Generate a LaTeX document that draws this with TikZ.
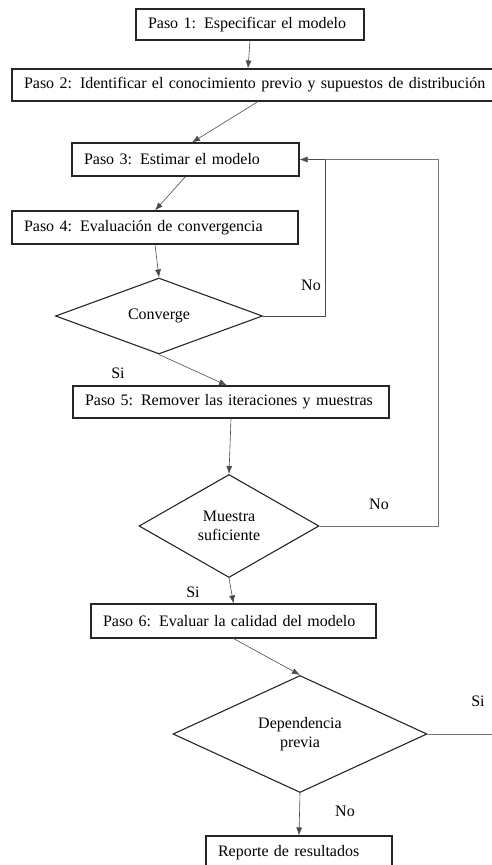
\documentclass[tikz,border=0pt]{standalone}
\usepackage{fontspec}
\setmainfont{Liberation Serif}
\usetikzlibrary{shapes.geometric,arrows.meta}
\begin{document}
\begin{tikzpicture}[x=1pt, y=-1pt, font=\fontsize{16}{19}\selectfont,
  paso/.style={draw=black!85, line width=1.1pt, inner xsep=12pt, inner ysep=0pt, align=left},
  decision/.style={diamond, draw=black!85, line width=1.1pt, inner sep=0pt, align=center},
  flecha/.style={draw=black!70, line width=0.6pt, -{Latex[length=8pt,width=6pt]}},
  linea/.style={draw=black!55, line width=0.6pt}]
\useasboundingbox (0,0) rectangle (492,865);
\node [paso, text width=204pt, minimum height=31pt] (paso1) at (250,24.5) {Paso 1: Especificar el modelo};
\node [paso, text width=476pt, minimum height=32pt] (paso2) at (262,85) {\mbox{Paso 2: Identificar el conocimiento previo y supuestos de distribución}};
\node [paso, text width=203pt, minimum height=33pt] (paso3) at (185.5,159.5) {Paso 3: Estimar el modelo};
\node [paso, text width=262pt, minimum height=33pt] (paso4) at (155,227.5) {Paso 4: Evaluación de convergencia};
\node [decision, minimum width=207pt, minimum height=65pt] (converge) at (159,316) {Converge};
\node [paso, text width=292pt, minimum height=32pt] (paso5) at (231,402) {Paso 5: Remover las iteraciones y muestras};
\node [decision, minimum width=180pt, minimum height=103pt] (muestra) at (229,526) {Muestra\\suficiente};
\node [paso, text width=261pt, minimum height=34pt] (paso6) at (233.5,621) {Paso 6: Evaluar la calidad del modelo};
\node [decision, minimum width=254pt, minimum height=99pt] (dependencia) at (300,734) {Dependencia\\previa};
\node [paso, text width=162pt, minimum height=34pt] (reporte) at (299,853) {Reporte de resultados};
\coordinate (vuelta1) at (325,159.5);
\coordinate (vuelta2) at (438,159.5);
\coordinate (salida) at (497,734);
\node (no1) at (311,285) {No};
\node (si1) at (118,373) {Si};
\node (no2) at (379,504) {No};
\node (si2) at (193,592) {Si};
\node (si3) at (478,701) {Si};
\node (no3) at (345,811) {No};
\draw [flecha] (paso1.south) -- ([xshift=-14pt]paso2.north);
\draw [flecha] ([xshift=-4pt]paso2.south) -- ([xshift=6.5pt]paso3.north);
\draw [flecha] (paso3.south) -- (paso4.north);
\draw [flecha] (paso4.south) -- (converge.north);
\draw [flecha] (converge.east) -| (vuelta1) -- (paso3.east);
\draw [flecha] (converge.south) -- ([xshift=-4pt]paso5.north);
\draw [flecha] (paso5.south) -- (muestra.north);
\draw [linea] (muestra.east) -| (vuelta2) -- (vuelta1);
\draw [flecha] (muestra.south) -- (paso6.north);
\draw [flecha] (paso6.south) -- (dependencia.north);
\draw [linea] (dependencia.east) -- (salida);
\draw [flecha] (dependencia.south) -- (reporte.north);
\end{tikzpicture}
\end{document}
